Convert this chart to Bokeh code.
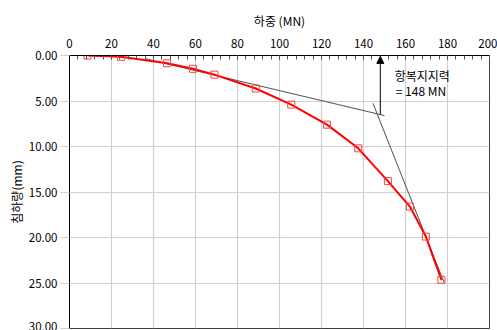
from bokeh.plotting import figure
from bokeh.models import (Range1d, LinearAxis, FixedTicker, NumeralTickFormatter,
                          Label, Arrow, NormalHead, ColumnDataSource)
from bokeh.embed import file_html
from bokeh.resources import INLINE

# Load test: applied load (MN) vs settlement (mm)
load = [8.6, 24.5, 46.4, 58.8, 69.0, 88.7, 105.6, 122.6, 137.5, 151.6, 162.1, 169.7, 177.1]
settlement = [0.0, 0.15, 0.85, 1.46, 2.1, 3.63, 5.4, 7.6, 10.2, 13.8, 16.6, 19.9, 24.65]

# Tangent lines used for the yield load construction
tangent1_x = [36.0, 150.0]
tangent1_y = [0.35, 6.6]
tangent2_x = [144.5, 178.4]
tangent2_y = [5.25, 24.96]

yield_load = 148
yield_arrow_y = [6.5, 0.1]

x_ticks = [0, 20, 40, 60, 80, 100, 120, 140, 160, 180, 200]
x_minor = [v for v in range(0, 201, 4)]
y_ticks = [0, 5, 10, 15, 20, 25, 30]

FONT = "Noto Sans CJK KR"

p = figure(width=497, height=330, output_backend="svg", toolbar_location=None,
           x_axis_location=None, y_axis_location=None,
           x_range=Range1d(0, 200), y_range=Range1d(30, 0),
           min_border_left=69, min_border_right=8, min_border_top=55, min_border_bottom=2)
p.background_fill_color = "white"
p.border_fill_color = "white"
p.outline_line_color = "#404040"

# Chart title sits above the top (load) axis
p.title.text = "하중 (MN)"
p.title.align = "center"
p.title.offset = -17
p.title.standoff = 13
p.title.text_font = FONT
p.title.text_font_size = "12px"
p.title.text_font_style = "normal"
p.title.text_color = "black"

xaxis = LinearAxis(ticker=FixedTicker(ticks=x_ticks, minor_ticks=x_minor))
xaxis.major_label_text_font = FONT
xaxis.major_label_text_font_size = "11.5px"
xaxis.major_label_text_color = "black"
xaxis.major_label_standoff = 8
xaxis.axis_line_color = "black"
xaxis.major_tick_in = 4
xaxis.major_tick_out = 0
xaxis.minor_tick_in = 4
xaxis.minor_tick_out = 0
xaxis.major_tick_line_color = "#555555"
xaxis.minor_tick_line_color = "#555555"
p.add_layout(xaxis, "above")

yaxis = LinearAxis(ticker=FixedTicker(ticks=y_ticks), formatter=NumeralTickFormatter(format="0.00"))
yaxis.axis_label = "침하량(mm)"
yaxis.axis_label_text_font = FONT
yaxis.axis_label_text_font_size = "12px"
yaxis.axis_label_text_font_style = "normal"
yaxis.axis_label_text_color = "black"
yaxis.axis_label_standoff = 1
yaxis.major_label_text_font = FONT
yaxis.major_label_text_font_size = "11.5px"
yaxis.major_label_text_color = "black"
yaxis.major_label_standoff = 3
yaxis.axis_line_color = "black"
yaxis.major_tick_in = 0
yaxis.major_tick_out = 9
yaxis.major_tick_line_color = "#d0d0d0"
yaxis.minor_tick_line_color = None
p.add_layout(yaxis, "left")

p.xgrid.ticker = FixedTicker(ticks=x_ticks)
p.ygrid.ticker = FixedTicker(ticks=y_ticks)
p.xgrid.grid_line_color = "#d0d0d0"
p.ygrid.grid_line_color = "#d0d0d0"
p.xgrid.grid_line_width = 1.2
p.ygrid.grid_line_width = 1.2

# Tangent construction lines
p.line(tangent1_x, tangent1_y, line_color="#505050", line_width=1)
p.line(tangent2_x, tangent2_y, line_color="#505050", line_width=1)

# Load-settlement curve
src = ColumnDataSource(dict(x=load, y=settlement))
p.line("x", "y", source=src, line_color="#ff0000", line_width=2)
p.scatter("x", "y", source=src, marker="square", size=7, fill_color=None,
          line_color="#ff4040", line_width=1)

# Yield load arrow
p.add_layout(Arrow(end=NormalHead(size=7, fill_color="black", line_color="black"),
                   x_start=yield_load, y_start=yield_arrow_y[0],
                   x_end=yield_load, y_end=yield_arrow_y[1],
                   line_color="black", line_width=1))

p.add_layout(Label(x=168, y=2.2, text="항복지지력", text_font=FONT, text_font_size="12px",
                   text_align="center", text_baseline="middle", text_color="black"))
p.add_layout(Label(x=168, y=3.85, text="= %d  MN" % yield_load, text_font=FONT,
                   text_font_size="12px", text_align="center", text_baseline="middle",
                   text_color="black"))

open("out.html", "w").write(file_html(p, INLINE))
